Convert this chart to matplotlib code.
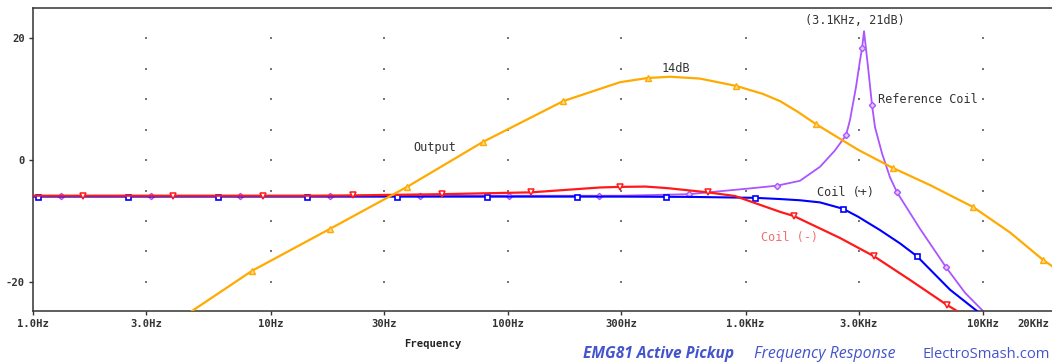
import matplotlib
matplotlib.use("Agg")
import matplotlib.pyplot as plt
from matplotlib.transforms import ScaledTranslation

W, H = 1052, 362

# data: frequency (Hz) and level (dB)
out_f = [4.67, 8.36, 17.8, 37.6, 78.5, 171, 296, 388, 481, 643, 912, 1180, 1397, 1650, 1982,
         2978, 4178, 5980, 9077, 13000, 17900, 20000]
out_db = [-24.8, -18.2, -11.3, -4.4, 3.0, 9.7, 12.8, 13.5, 13.7, 13.4, 12.2, 10.9, 9.7, 8.0, 5.9,
          1.7, -1.3, -4.1, -7.7, -11.9, -16.4, -17.7]

red_f = [1, 15, 22.3, 52.7, 125, 244, 296, 380, 467, 695, 903, 1397, 1600, 2500,
         3475, 4930, 7047, 7775]
red_db = [-5.85, -5.85, -5.8, -5.6, -5.3, -4.5, -4.4, -4.35, -4.6, -5.3, -5.9, -8.5,
          -9.2, -12.8, -15.8, -19.7, -23.8, -24.8]

blue_f = [1, 300, 600, 1097, 1397, 1695, 2059, 2575, 2978, 3683, 4477, 5272, 7262, 9436]
blue_db = [-6.0, -6.0, -6.05, -6.2, -6.4, -6.6, -6.95, -8.0, -9.3, -11.5, -13.7, -15.8,
           -21.3, -24.8]

ref_f = [1, 300, 578, 1045, 1358, 1695, 2059, 2382, 2650, 2754, 2919, 3035, 3096, 3155,
         3280, 3411, 3510, 3757, 4056, 4345, 5432, 6985, 8399, 10000]
ref_db = [-5.9, -5.85, -5.6, -4.65, -4.2, -3.4, -1.1, 1.6, 4.1, 6.6, 12.0, 16.4, 18.4, 21.2,
          15.3, 9.0, 5.4, 1.1, -2.8, -5.3, -11.3, -17.6, -21.8, -24.8]

# marker positions along each trace
out_mk_f = [8.36, 17.8, 37.6, 78.5, 171, 388, 912, 1982, 4178, 9077, 17900]
out_mk_db = [-18.2, -11.3, -4.4, 3.0, 9.7, 13.5, 12.2, 5.9, -1.3, -7.7, -16.4]
red_mk_f = [1.62, 3.88, 9.30, 22.3, 52.7, 125, 296, 695, 1600, 3475, 7047]
red_mk_db = [-5.85, -5.85, -5.85, -5.8, -5.6, -5.3, -4.4, -5.3, -9.2, -15.8, -23.8]
blue_mk_f = [1.05, 2.51, 6.01, 14.2, 34.1, 81.6, 195, 463, 1097, 2575, 5272]
blue_mk_db = [-6.0, -6.0, -6.0, -6.0, -6.0, -6.0, -6.0, -6.0, -6.2, -8.0, -15.8]
ref_mk_f = [1.31, 3.14, 7.44, 17.8, 42.6, 101, 242, 578, 1358, 2650, 3096, 3411, 4345, 6985]
ref_mk_db = [-5.9, -5.9, -5.9, -5.9, -5.9, -5.9, -5.85, -5.6, -4.2, 4.1, 18.4, 9.0, -5.3, -17.6]

xticks = [1, 3, 10, 30, 100, 300, 1000, 3000, 10000, 20000]
xlabels = ["1.0Hz", "3.0Hz", "10Hz", "30Hz", "100Hz", "300Hz", "1.0KHz", "3.0KHz",
           "10KHz", "20KHz"]
yticks = [-20, 0, 20]
grid_x = [3, 10, 30, 100, 300, 1000, 3000, 10000]
grid_y = [-20, -15, -10, -5, 0, 5, 10, 15, 20]

fig = plt.figure(figsize=(W / 100, H / 100), dpi=100)
ax = fig.add_axes([33 / W, (H - 311) / H, (1054.5 - 33) / W, (311 - 8) / H])
ax.set_xscale("log")
ax.set_xlim(1, 20000)
ax.set_ylim(-24.8, 25)

# dotted grid: one dot per intersection
for gx in grid_x:
    ax.scatter([gx] * len(grid_y), grid_y, s=1.2, color="#777777", marker="s",
               linewidths=0, zorder=1)

ax.plot(ref_f, ref_db, color="#aa55ff", lw=1.3, zorder=2)
ax.plot(ref_mk_f, ref_mk_db, ls="none", marker="D", ms=3.2, mfc="#e0c8ff",
        mec="#aa55ff", mew=1.0, zorder=2)
ax.plot(blue_f, blue_db, color="#0000ff", lw=1.5, zorder=3)
ax.plot(blue_mk_f, blue_mk_db, ls="none", marker="s", ms=3.6, mfc="white",
        mec="#0000ff", mew=1.2, zorder=3)
ax.plot(red_f, red_db, color="#ff1a1a", lw=1.6, zorder=4)
ax.plot(red_mk_f, red_mk_db, ls="none", marker="v", ms=4.5, mfc="white",
        mec="#ff1a1a", mew=1.1, zorder=4)
ax.plot(out_f, out_db, color="#ffaa00", lw=1.6, zorder=5)
ax.plot(out_mk_f, out_mk_db, ls="none", marker="^", ms=4.2, mfc="#ffd890",
        mec="#ffaa00", mew=1.0, zorder=5)

lbl = dict(family="DejaVu Sans Mono", fontsize=8.6, color="#333333")
ax.text(39.8, 2.1, "Output", ha="left", va="center", **lbl)
ax.text(445, 15.1, "14dB", ha="left", va="center", **lbl)
ax.text(2877, 23.0, "(3.1KHz, 21dB)", ha="center", va="center", **lbl)
ax.text(3613, 10.0, "Reference Coil", ha="left", va="center", **lbl)
ax.text(2000, -5.4, "Coil (+)", ha="left", va="center", **lbl)
ax.text(1162, -12.7, "Coil (-)", ha="left", va="center", family="DejaVu Sans Mono",
        fontsize=8.6, color="#f07070")

ax.set_xticks(xticks)
ax.set_xticklabels(xlabels)
ax.minorticks_off()
ax.set_yticks(yticks)
ax.set_yticklabels([str(v) for v in yticks])
ax.tick_params(direction="out", length=3, width=1, colors="#333333", pad=3)
for t in ax.get_xticklabels() + ax.get_yticklabels():
    t.set_family("DejaVu Sans Mono")
    t.set_fontweight("bold")
    t.set_fontsize(7.6)
# last label sits at the right edge, pull it inside the canvas
last = ax.xaxis.get_major_ticks()[-1].label1
last.set_horizontalalignment("right")
last.set_transform(last.get_transform() + ScaledTranslation(-5 / 100, 0, fig.dpi_scale_trans))

for side in ["left", "top", "bottom"]:
    ax.spines[side].set_color("#333333")
    ax.spines[side].set_linewidth(1.1)
ax.spines["right"].set_visible(False)

fig.text(433 / W, 1 - 344 / H, "Frequency", ha="center", va="center",
         family="DejaVu Sans Mono", fontweight="bold", fontsize=7.6, color="#222222")

foot = "#4455cc"
fig.text(583 / W, 1 - 354 / H, "EMG81 Active Pickup", ha="left", va="center",
         family="Open Sans", fontweight="bold", style="italic", fontsize=11.2, color=foot)
fig.text(754 / W, 1 - 354 / H, "Frequency Response", ha="left", va="center",
         family="Open Sans", style="italic", fontsize=11.4, color=foot)
fig.text(923 / W, 1 - 354 / H, "ElectroSmash.com", ha="left", va="center",
         family="Open Sans", fontsize=10.6, color=foot)

fig.savefig("out.png", dpi=100)
